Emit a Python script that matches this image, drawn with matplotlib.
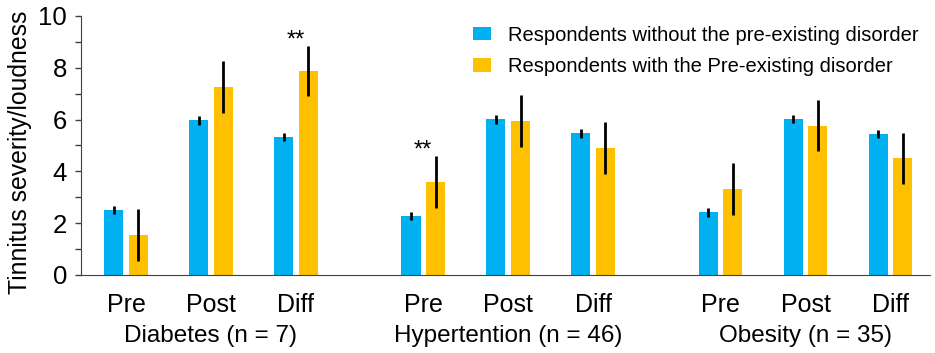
import matplotlib
matplotlib.use("Agg")
import matplotlib.pyplot as plt
import numpy as np
from matplotlib.patches import Patch
from matplotlib.ticker import MultipleLocator

plt.rcParams['font.family'] = ['Liberation Sans', 'DejaVu Sans']

measures = ["Pre", "Post", "Diff"]
groups = ["Diabetes (n = 7)", "Hypertention (n = 46)", "Obesity (n = 35)"]
series_names = ["Respondents without the pre-existing disorder",
                "Respondents with the Pre-existing disorder"]

without_vals = [2.51, 5.98, 5.33, 2.28, 6.01, 5.47, 2.42, 6.02, 5.44]
without_err = [0.14, 0.17, 0.17, 0.16, 0.18, 0.17, 0.17, 0.17, 0.17]
with_vals = [1.54, 7.26, 7.88, 3.60, 5.96, 4.89, 3.32, 5.77, 4.50]
with_err = [1.00, 1.00, 0.97, 1.00, 1.00, 1.00, 1.01, 1.00, 1.00]
significance = ["", "", "**", "**", "", "", "", "", ""]

blue = "#00B0F0"
orange = "#FFC000"

fig = plt.figure(figsize=(9.35, 3.53), dpi=100)
ax = fig.add_axes([0.0866, 0.221, 0.9084, 0.7337])

pos = []
for g in range(len(groups)):
    for m in range(len(measures)):
        pos.append(g * 3.5 + m)
pos = np.array(pos)

w = 0.225
off = 0.145
ekw = dict(elinewidth=2, capsize=0, ecolor="black")
ax.bar(pos - off, without_vals, w, color=blue, yerr=without_err, error_kw=ekw, zorder=2)
ax.bar(pos + off, with_vals, w, color=orange, yerr=with_err, error_kw=ekw, zorder=2)

for p, s, v, e in zip(pos, significance, with_vals, with_err):
    if s:
        ax.text(p, v + e + 0.22, s, ha="center", va="center", fontsize=17)

ax.set_xlim(-0.53, 9.47)
ax.set_ylim(0, 10)
ax.yaxis.set_major_locator(MultipleLocator(2))
ax.yaxis.set_minor_locator(MultipleLocator(1))
ax.tick_params(axis="y", which="both", direction="out", length=4, width=1, labelsize=18.5, pad=6, color="#404040")
ax.set_xticks(pos)
ax.set_xticklabels(measures * len(groups), fontsize=18)
ax.tick_params(axis="x", length=0, pad=13)
for sp in ["top", "right"]:
    ax.spines[sp].set_visible(False)
ax.spines["left"].set_color("#404040")
ax.spines["bottom"].set_color("#404040")
ax.set_ylabel("Tinnitus severity/loudness", fontsize=17.8, labelpad=6)
ax.yaxis.set_label_coords(-0.058, 0.475)

for g, name in enumerate(groups):
    ax.text(g * 3.5 + 1, -0.236, name, transform=ax.get_xaxis_transform(),
            ha="center", va="center", fontsize=17.5)

handles = [Patch(facecolor=blue), Patch(facecolor=orange)]
ax.legend(handles, series_names, loc="upper left", bbox_to_anchor=(0.44, 1.033),
          frameon=False, fontsize=14.5, handlelength=0.9, handleheight=0.63,
          handletextpad=0.85, labelspacing=0.62)

fig.savefig("out.png", dpi=100)
